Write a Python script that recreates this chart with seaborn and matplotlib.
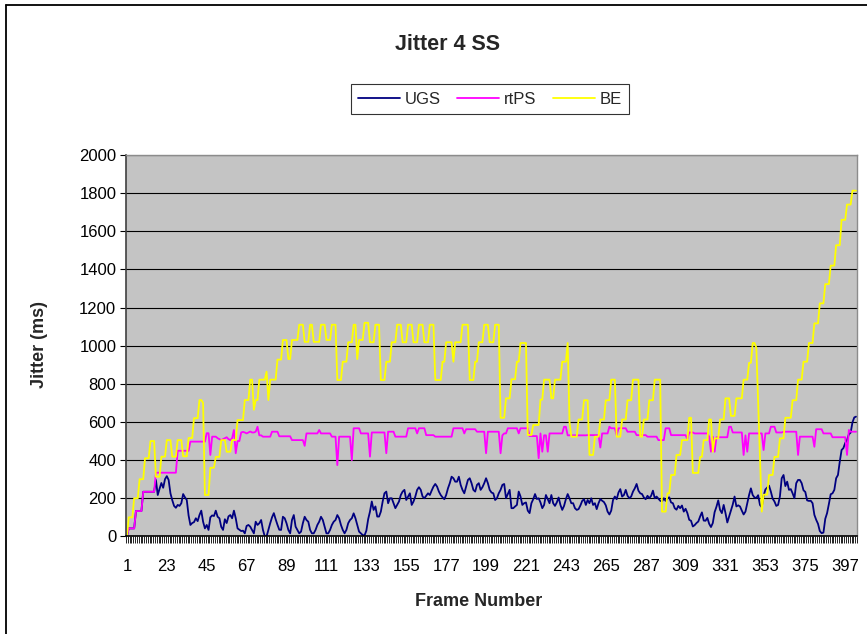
import numpy as np
import pandas as pd
import matplotlib
matplotlib.use("Agg")
import matplotlib.pyplot as plt
import seaborn as sns
from matplotlib.lines import Line2D

# ---------------- data ----------------
series_names = ["UGS", "rtPS", "BE"]
series_colors = ["#000080", "#FF00FF", "#FFFF00"]
x_tick_labels = [1, 23, 45, 67, 89, 111, 133, 155, 177, 199, 221, 243,
                 265, 287, 309, 331, 353, 375, 397]
y_ticks = [0, 200, 400, 600, 800, 1000, 1200, 1400, 1600, 1800, 2000]

ugs = [
    0, 42, 42, 42, 42, 133, 133, 133, 133, 234,          # 1-10
    234, 234, 234, 234, 234, 234, 296, 217, 250, 280,    # 11-20
    255, 300, 316, 296, 226, 190, 160, 150, 165, 160,    # 21-30
    174, 222, 205, 191, 110, 60, 70, 75, 95, 80,         # 31-40
    112, 135, 77, 42, 60, 34, 100, 110, 107, 135,        # 41-50
    103, 95, 50, 34, 90, 70, 105, 112, 95, 135,          # 51-60
    95, 42, 35, 28, 30, 16, 55, 60, 51, 34,              # 61-70
    16, 77, 60, 69, 86, 34, 0, 0, 35, 69,                # 71-80
    100, 122, 90, 61, 35, 34, 103, 95, 69, 34,           # 81-90
    16, 86, 112, 51, 34, 16, 25, 69, 103, 86,            # 91-100
    77, 34, 16, 16, 34, 60, 77, 103, 86, 51,             # 101-110
    16, 16, 34, 60, 77, 86, 112, 95, 60, 34,             # 111-120
    16, 34, 69, 86, 95, 121, 95, 60, 25, 16,             # 121-130
    7, 5, 30, 90, 130, 183, 139, 157, 104, 104,          # 131-140
    130, 183, 226, 235, 174, 200, 200, 174, 148, 165,    # 141-150
    183, 217, 235, 244, 191, 209, 226, 165, 183, 209,    # 151-160
    244, 258, 244, 209, 200, 213, 226, 217, 240, 261,    # 161-170
    275, 261, 235, 217, 205, 195, 217, 252, 279, 313,    # 171-180
    305, 287, 287, 313, 270, 244, 226, 261, 296, 305,    # 181-190
    279, 244, 235, 270, 279, 244, 258, 279, 305, 279,    # 191-200
    244, 230, 226, 191, 200, 226, 244, 270, 275, 200,    # 201-210
    222, 244, 148, 148, 157, 165, 235, 209, 165, 174,    # 211-220
    178, 135, 122, 174, 195, 222, 196, 200, 178, 148,    # 221-230
    165, 217, 196, 174, 217, 174, 160, 178, 204, 165,    # 231-240
    139, 160, 195, 222, 200, 174, 174, 148, 139, 143,    # 241-250
    162, 186, 195, 165, 191, 174, 200, 165, 174, 143,    # 251-260
    174, 196, 187, 180, 163, 130, 115, 135, 191, 209,    # 261-270
    195, 230, 248, 209, 217, 244, 213, 200, 209, 235,    # 271-280
    252, 275, 240, 226, 222, 204, 195, 213, 200, 213,    # 281-290
    240, 200, 209, 198, 187, 183, 200, 186, 200, 205,    # 291-300
    178, 174, 148, 140, 160, 148, 162, 130, 145, 122,    # 301-310
    87, 82, 52, 59, 70, 78, 104, 126, 83, 82,            # 311-320
    97, 66, 49, 70, 127, 155, 189, 139, 122, 165,        # 321-330
    122, 73, 104, 135, 167, 209, 157, 163, 157, 135,     # 331-340
    115, 130, 174, 217, 252, 217, 204, 202, 216, 165,    # 341-350
    153, 213, 246, 256, 266, 235, 198, 183, 160, 165,    # 351-360
    209, 305, 322, 264, 287, 244, 248, 226, 200, 279,    # 361-370
    296, 296, 279, 242, 233, 189, 186, 187, 174, 113,    # 371-380
    87, 66, 28, 17, 20, 92, 122, 170, 221, 226,          # 381-390
    244, 305, 322, 392, 453, 463, 490, 505, 535, 544,    # 391-400
    598, 624, 628,                                       # 401-403
]

rtps = [
    0, 42, 42, 42, 42, 133, 133, 133, 133, 234,          # 1-10
    234, 234, 234, 234, 234, 234, 334, 334, 334, 334,    # 11-20
    334, 334, 334, 334, 334, 334, 334, 334, 449, 449,    # 21-30
    449, 449, 449, 449, 449, 497, 497, 497, 497, 497,    # 31-40
    497, 497, 497, 497, 541, 541, 427, 523, 523, 523,    # 41-50
    515, 510, 505, 510, 515, 520, 510, 505, 515, 558,    # 51-60
    436, 500, 500, 545, 548, 545, 540, 545, 550, 545,    # 61-70
    545, 549, 575, 530, 530, 523, 523, 523, 523, 523,    # 71-80
    549, 549, 549, 549, 525, 525, 525, 525, 525, 525,    # 81-90
    525, 505, 505, 505, 505, 505, 505, 505, 475, 540,    # 91-100
    540, 540, 540, 540, 540, 540, 558, 540, 540, 540,    # 101-110
    540, 540, 540, 523, 523, 523, 374, 523, 523, 523,    # 111-120
    523, 523, 523, 523, 400, 567, 567, 567, 567, 540,    # 121-130
    540, 540, 540, 540, 418, 545, 545, 545, 545, 545,    # 131-140
    545, 545, 545, 436, 549, 549, 549, 549, 523, 523,    # 141-150
    523, 523, 523, 523, 523, 567, 567, 567, 567, 567,    # 151-160
    540, 567, 567, 567, 567, 531, 531, 531, 531, 531,    # 161-170
    523, 523, 523, 523, 523, 523, 523, 523, 523, 523,    # 171-180
    567, 567, 567, 567, 567, 567, 540, 562, 562, 562,    # 181-190
    562, 562, 562, 549, 549, 549, 549, 549, 436, 549,    # 191-200
    549, 549, 549, 549, 549, 549, 436, 530, 540, 540,    # 201-210
    567, 567, 567, 567, 567, 567, 540, 567, 567, 567,    # 211-220
    567, 567, 526, 526, 526, 526, 526, 410, 540, 444,    # 221-230
    530, 530, 444, 540, 540, 540, 540, 540, 540, 540,    # 231-240
    540, 575, 575, 530, 530, 530, 530, 530, 530, 530,    # 241-250
    530, 530, 530, 530, 531, 531, 531, 531, 531, 531,    # 251-260
    531, 466, 540, 540, 540, 540, 575, 567, 567, 567,    # 261-270
    531, 567, 567, 567, 567, 567, 549, 549, 549, 549,    # 271-280
    549, 531, 531, 531, 531, 531, 531, 523, 523, 523,    # 281-290
    523, 523, 523, 505, 505, 505, 505, 567, 567, 567,    # 291-300
    531, 531, 531, 531, 531, 531, 531, 531, 531, 510,    # 301-310
    545, 545, 545, 540, 540, 540, 540, 540, 540, 540,    # 311-320
    540, 523, 444, 523, 444, 520, 520, 520, 520, 520,    # 321-330
    520, 520, 575, 575, 545, 545, 545, 545, 545, 545,    # 331-340
    427, 530, 444, 540, 540, 540, 540, 540, 540, 540,    # 341-350
    540, 453, 540, 540, 540, 575, 575, 575, 545, 545,    # 351-360
    545, 545, 549, 549, 549, 549, 549, 549, 549, 549,    # 361-370
    427, 523, 523, 523, 523, 523, 523, 523, 523, 470,    # 371-380
    562, 562, 562, 562, 540, 540, 540, 540, 540, 520,    # 381-390
    520, 520, 520, 520, 520, 520, 520, 427, 558, 549,    # 391-400
    549, 549, 549,                                       # 401-403
]

be = [
    0, 100, 100, 100, 200, 200, 200, 300, 300, 300,              # 1-10
    410, 410, 410, 500, 500, 500, 313, 313, 313, 418,            # 11-20
    418, 418, 505, 505, 505, 418, 418, 418, 505, 505,            # 21-30
    505, 420, 420, 420, 516, 516, 516, 620, 620, 620,            # 31-40
    715, 715, 700, 217, 217, 217, 360, 360, 360, 417,            # 41-50
    417, 417, 505, 505, 505, 444, 444, 444, 505, 505,            # 51-60
    505, 610, 610, 610, 610, 715, 715, 715, 822, 822,            # 61-70
    664, 715, 715, 822, 822, 822, 822, 864, 715, 822,            # 71-80
    822, 822, 822, 927, 927, 927, 1030, 1030, 1030, 930,         # 81-90
    930, 1030, 1030, 1030, 1030, 1110, 1110, 1110, 1020, 1020,   # 91-100
    1020, 1110, 1110, 1020, 1020, 1020, 1020, 1110, 1110, 1110,  # 101-110
    1030, 1030, 1030, 1110, 1110, 1110, 820, 820, 820, 916,      # 111-120
    916, 916, 1018, 1018, 1018, 1110, 1110, 930, 1030, 1030,     # 121-130
    1030, 1120, 1120, 1120, 1018, 1018, 1018, 1110, 1110, 1110,  # 131-140
    820, 820, 820, 916, 916, 916, 1018, 1018, 1018, 1110,        # 141-150
    1110, 1110, 1018, 1018, 1018, 1110, 1110, 1110, 1018, 1018,  # 151-160
    1018, 1110, 1110, 1110, 1018, 1018, 1018, 1110, 1110, 1110,  # 161-170
    820, 820, 820, 820, 916, 916, 1018, 1018, 1018, 1018,        # 171-180
    916, 1018, 1018, 1018, 1018, 1110, 1110, 1110, 1110, 820,    # 181-190
    820, 820, 916, 916, 1018, 1018, 1018, 1110, 1110, 1110,      # 191-200
    1018, 1018, 1018, 1110, 1110, 1110, 622, 622, 622, 724,      # 201-210
    724, 724, 824, 824, 824, 916, 916, 1014, 1014, 1014,         # 211-220
    1014, 532, 532, 532, 584, 584, 584, 584, 717, 717,           # 221-230
    822, 822, 822, 822, 724, 724, 822, 822, 822, 822,            # 231-240
    916, 916, 916, 1014, 601, 523, 523, 523, 523, 613,           # 241-250
    613, 613, 714, 714, 714, 427, 427, 427, 523, 523,            # 251-260
    523, 613, 613, 613, 714, 714, 714, 822, 822, 822,            # 261-270
    523, 523, 523, 613, 613, 613, 714, 714, 714, 822,            # 271-280
    822, 822, 822, 523, 523, 613, 613, 613, 714, 714,            # 281-290
    714, 822, 822, 822, 822, 130, 130, 130, 226, 226,            # 291-300
    322, 322, 322, 427, 427, 427, 505, 505, 505, 505,            # 301-310
    622, 622, 333, 333, 333, 333, 417, 417, 505, 505,            # 311-320
    505, 613, 613, 444, 514, 514, 514, 613, 613, 613,            # 321-330
    724, 724, 724, 632, 632, 632, 724, 724, 724, 724,            # 331-340
    822, 822, 822, 910, 910, 1014, 1014, 990, 700, 400,          # 341-350
    130, 219, 219, 219, 322, 322, 322, 417, 417, 417,            # 351-360
    514, 514, 514, 622, 622, 622, 622, 714, 714, 714,            # 361-370
    822, 822, 822, 916, 916, 916, 1014, 1014, 1014, 1117,        # 371-380
    1117, 1117, 1222, 1222, 1222, 1323, 1323, 1323, 1420, 1420,  # 381-390
    1420, 1527, 1527, 1527, 1660, 1660, 1660, 1740, 1740, 1740,  # 391-400
    1813, 1813, 1813,                                            # 401-403
]

# ---------------- build long table ----------------
frames_all = []
values_all = []
names_all = []
for name, vals in zip(series_names, [ugs, rtps, be]):
    frames_all.extend(range(1, len(vals) + 1))
    values_all.extend(vals)
    names_all.extend([name] * len(vals))
df = pd.DataFrame({"Frame": frames_all, "Jitter": values_all, "Series": names_all})
n_frames = max(len(ugs), len(rtps), len(be))

# ---------------- style ----------------
sns.set_theme(style="white")
plt.rcParams["font.family"] = ["Liberation Sans", "DejaVu Sans"]

W, H = 867, 634
fig = plt.figure(figsize=(W / 100, H / 100), dpi=100)
fig.patch.set_facecolor("white")

left, right, top, bottom = 126, 857, 155, 536.4
ax = fig.add_axes([left / W, 1 - bottom / H, (right - left) / W, (bottom - top) / H])
ax.set_facecolor("#C4C4C4")

palette = dict(zip(series_names, series_colors))
sns.lineplot(data=df, x="Frame", y="Jitter", hue="Series", hue_order=series_names,
             palette=palette, estimator=None, sort=False, linewidth=1.3,
             legend=False, ax=ax)

ax.set_xlim(0.5, n_frames + 0.5)
ax.set_ylim(0, 2000)
ax.set_yticks(y_ticks)
ax.set_yticklabels([str(v) for v in y_ticks], fontsize=12)
ax.yaxis.grid(True, color="black", linewidth=0.8)
ax.xaxis.grid(False)
ax.set_axisbelow(True)

ax.set_xticks(x_tick_labels)
ax.set_xticklabels([str(v) for v in x_tick_labels], fontsize=12)
ax.set_xticks(np.arange(0.5, n_frames + 1, 1.0), minor=True)
ax.tick_params(axis="x", which="major", length=0, pad=16, colors="black")
ax.tick_params(axis="x", which="minor", length=5, width=0.6, color="black",
               direction="out", bottom=True)
ax.tick_params(axis="y", which="major", length=4, width=0.8, color="black",
               direction="out", left=True, pad=3, labelcolor="black")

ax.set_xlabel("")
ax.set_ylabel("")
for side in ["top", "right"]:
    ax.spines[side].set_color("#8C8C8C")
    ax.spines[side].set_linewidth(1.0)
ax.spines["left"].set_color("#404040")
ax.spines["left"].set_linewidth(1.2)
ax.spines["bottom"].set_color("black")
ax.spines["bottom"].set_linewidth(1.2)

# titles / labels
fig.text(448 / W, 1 - 45 / H, "Jitter 4 SS", ha="center", va="center",
         fontsize=15.5, fontweight="bold")
fig.text(40 / W, 1 - 345 / H, "Jitter (ms)", ha="center", va="center",
         rotation=90, fontsize=13, fontweight="bold")
fig.text(479 / W, 1 - 602 / H, "Frame Number", ha="center", va="center",
         fontsize=13, fontweight="bold")

# legend
handles = [Line2D([0], [0], color=c, lw=1.3) for c in series_colors]
leg = fig.legend(handles, series_names, loc="center",
                 bbox_to_anchor=(490 / W, 1 - 99 / H), ncol=3, frameon=True,
                 fancybox=False, edgecolor="black", fontsize=12,
                 handlelength=2.5, handletextpad=0.3, columnspacing=1.0,
                 borderpad=0.45)
leg.get_frame().set_linewidth(0.8)
leg.get_frame().set_facecolor("white")

# chart-area border (left and top edges)
fig.add_artist(Line2D([6 / W, 6 / W], [0, 1 - 5 / H], transform=fig.transFigure,
                      color="black", lw=1.3))
fig.add_artist(Line2D([6 / W, 1], [1 - 5 / H, 1 - 5 / H], transform=fig.transFigure,
                      color="black", lw=1.3))

fig.savefig("out.png", dpi=100, facecolor="white")
